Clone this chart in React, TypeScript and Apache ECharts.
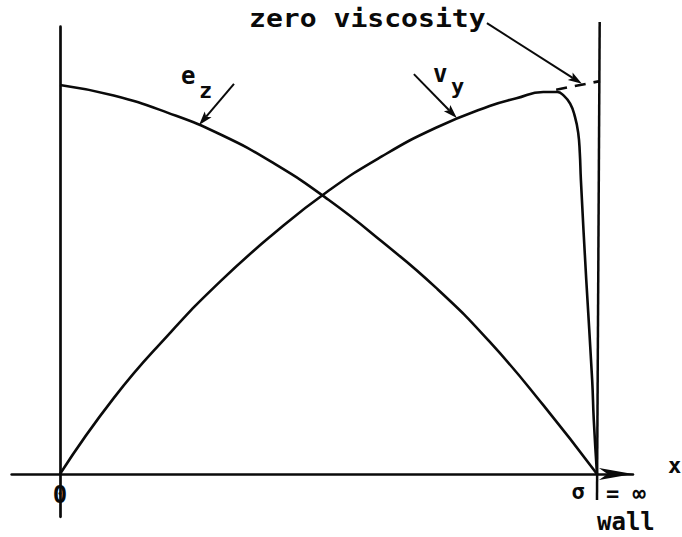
import { useEffect, useRef } from "react";
import * as echarts from "echarts";

// x: distance from the centre plane, normalised so the wall (σ = ∞) sits at 1
// y: profile amplitude, normalised to e_z on the centre plane
const ezPoints: [number, number][] = [
  [0, 1.0], [0.1, 0.973], [0.2, 0.929], [0.3, 0.872], [0.4, 0.797],
  [0.5, 0.705], [0.6, 0.597], [0.7, 0.479], [0.8, 0.34], [0.9, 0.177],
  [1.0, 0],
];

const vyPoints: [number, number][] = [
  [0, 0], [0.1, 0.195], [0.2, 0.355], [0.3, 0.497], [0.4, 0.62],
  [0.5, 0.728], [0.6, 0.817], [0.7, 0.89], [0.8, 0.946], [0.85, 0.966],
  [0.9, 0.982], [0.926, 0.982], [0.937, 0.974], [0.95, 0.952], [0.959, 0.918],
  [0.965, 0.877], [0.968, 0.825], [0.97, 0.756], [0.98, 0.499], [0.991, 0.242],
  [0.994, 0.139], [1.0, 0],
];

// v_y continued to the wall when the viscosity is zero
const vyInviscid: [number, number][] = [[0.924, 0.988], [1.0056, 1.01]];

// the wall at σ = ∞
const wallLine: [number, number][] = [[1.005, 1.162], [1.0, -0.067]];

const xTickLabels = ["0"];

// axis extents
const X_MIN = -0.09;
const X_MAX = 1.067;
const Y_MIN = -0.11;
const Y_MAX = 1.15;

// annotation arrows, in axis units
const arrows: { from: [number, number]; to: [number, number] }[] = [
  { from: [0.324, 1.003], to: [0.259, 0.897] },
  { from: [0.659, 1.028], to: [0.739, 0.915] },
  { from: [0.795, 1.159], to: [0.972, 1.003] },
];

const FONT = '"DejaVu Sans Mono", "Liberation Mono", monospace';
const INK = "#0a0a0a";

function textEl(
  text: string,
  x: number,
  y: number,
  size: number,
  align: "left" | "center" = "left",
  scaleX = 1
) {
  return {
    type: "text",
    x,
    y,
    scaleX,
    silent: true,
    style: {
      text,
      font: `bold ${size}px ${FONT}`,
      fill: INK,
      align,
      verticalAlign: "middle",
      textAlign: align,
      textVerticalAlign: "middle",
    },
  };
}

export default function App() {
  const ref = useRef<HTMLDivElement>(null);

  useEffect(() => {
    if (!ref.current) return;
    const chart = echarts.init(ref.current, null, { renderer: "svg" });

    const curve = (name: string, data: [number, number][]) => ({
      name,
      type: "line",
      data,
      showSymbol: false,
      smooth: 0.5,
      clip: false,
      silent: true,
      lineStyle: { color: INK, width: 2.6 },
    });

    chart.setOption({
      animation: false,
      backgroundColor: "#ffffff",
      grid: {
        left: 60 + X_MIN * 537,
        right: 682 - (60 + X_MAX * 537),
        top: 474 - Y_MAX * 389,
        bottom: 537 - (474 - Y_MIN * 389),
        containLabel: false,
      },
      xAxis: {
        type: "value",
        min: X_MIN,
        max: X_MAX,
        axisLine: {
          show: true,
          onZero: true,
          symbol: ["none", "arrow"],
          symbolSize: [9, 34],
          lineStyle: { color: INK, width: 2.6 },
        },
        axisTick: { show: false },
        axisLabel: { show: false },
        splitLine: { show: false },
      },
      yAxis: {
        type: "value",
        min: Y_MIN,
        max: Y_MAX,
        axisLine: { show: true, onZero: true, lineStyle: { color: INK, width: 2.7 } },
        axisTick: { show: false },
        axisLabel: { show: false },
        splitLine: { show: false },
      },
      series: [
        curve("e_z", ezPoints),
        curve("v_y", vyPoints),
        {
          name: "zero viscosity",
          type: "line",
          data: vyInviscid,
          showSymbol: false,
          clip: false,
          silent: true,
          lineStyle: { color: INK, width: 2.6, type: [11, 8] },
        },
        {
          name: "wall",
          type: "line",
          data: wallLine,
          showSymbol: false,
          clip: false,
          silent: true,
          lineStyle: { color: INK, width: 2.5 },
        },
      ],
    });

    const toPx = (p: [number, number]) =>
      chart.convertToPixel({ seriesIndex: 0 }, p) as number[];

    const arrowEls: any[] = [];
    arrows.forEach(({ from, to }) => {
      const a = toPx(from);
      const t = toPx(to);
      const dx = t[0] - a[0];
      const dy = t[1] - a[1];
      const len = Math.hypot(dx, dy);
      const ux = dx / len;
      const uy = dy / len;
      const nx = -uy;
      const ny = ux;
      const L = 14;
      const W = 4.5;
      const notch = 3;
      const back = [t[0] - ux * (L - notch), t[1] - uy * (L - notch)];
      arrowEls.push({
        type: "line",
        silent: true,
        shape: { x1: a[0], y1: a[1], x2: back[0], y2: back[1] },
        style: { stroke: INK, lineWidth: 2 },
      });
      arrowEls.push({
        type: "polygon",
        silent: true,
        shape: {
          points: [
            [t[0], t[1]],
            [t[0] - ux * L + nx * W, t[1] - uy * L + ny * W],
            back,
            [t[0] - ux * L - nx * W, t[1] - uy * L - ny * W],
          ],
        },
        style: { fill: INK },
      });
    });

    const origin = toPx([0, 0]);

    chart.setOption({
      graphic: [
        ...arrowEls,
        textEl("zero viscosity", 249, 19, 24, "left", 1.17),
        textEl("e", 181, 76, 24),
        textEl("z", 199, 90, 22),
        textEl("v", 433, 74, 24),
        textEl("y", 451, 86, 22),
        textEl(xTickLabels[0], origin[0], 495, 24, "center"),
        textEl("σ", 578, 491, 22, "center"),
        textEl("= ∞", 606, 493, 22),
        textEl("wall", 597, 522, 24),
        textEl("x", 668, 465, 22),
      ],
    });

    return () => chart.dispose();
  }, []);

  return (
    <div
      ref={ref}
      style={{ position: "absolute", left: 0, top: 0, width: 682, height: 537 }}
    />
  );
}
